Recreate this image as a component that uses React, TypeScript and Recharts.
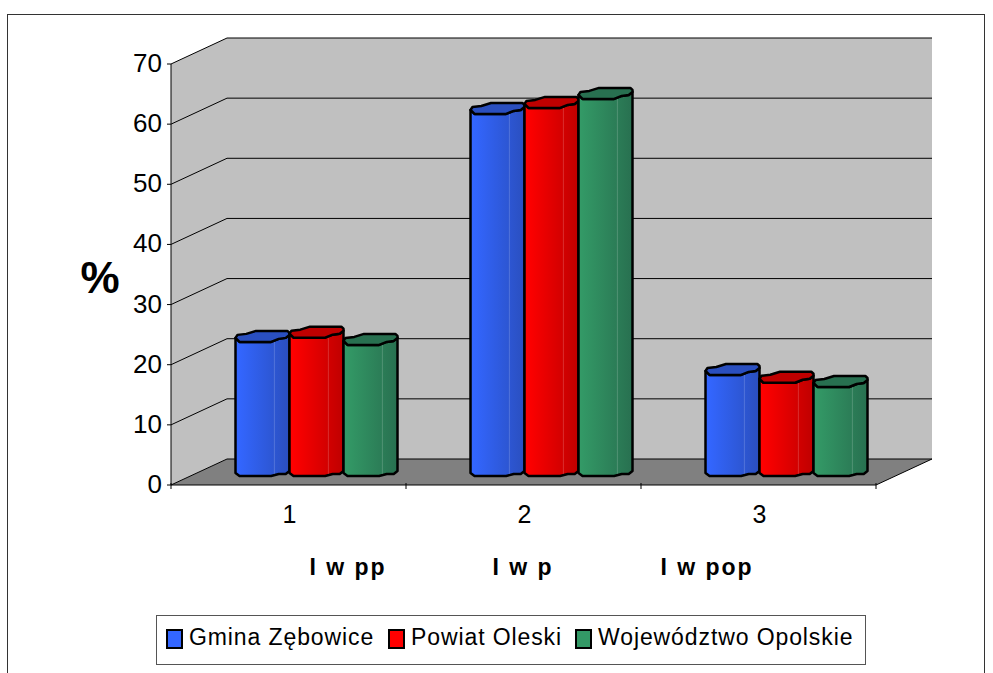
import React from "react";
import { BarChart, Bar, XAxis, YAxis, CartesianGrid, ReferenceArea, Legend } from "recharts";

const categories = ["1", "2", "3"];
const gminaValues = [22.3, 60.2, 16.8];
const powiatValues = [23.0, 61.2, 15.5];
const wojewodztwoValues = [21.8, 62.7, 14.8];
const seriesNames = ["Gmina Zębowice", "Powiat Oleski", "Województwo Opolskie"];
const seriesKeys = ["gmina", "powiat", "wojewodztwo"];
const seriesColors = ["#3366FF", "#FF0000", "#339966"];
const seriesDark = ["#2A4FBF", "#BF0000", "#287050"];
const yTicks = [0, 10, 20, 30, 40, 50, 60, 70];
const groupLabels = ["I w pp", "I w p", "I w pop"];

const data = categories.map((c, i) => ({
  name: c,
  gmina: gminaValues[i],
  powiat: powiatValues[i],
  wojewodztwo: wojewodztwoValues[i],
}));

const FONT = '"Liberation Sans", Arial, sans-serif';
const DX = 56;
const DY = -26;
const BAR_DX = 27.5;
const BAR_DY = -9;

const Walls = (p: any) => {
  const { x, y, width, height } = p;
  const b = y + height;
  const r = x + width;
  return (
    <g>
      <polygon points={`${x + DX},${y + DY} ${r + DX},${y + DY} ${r + DX},${b + DY} ${x + DX},${b + DY}`} fill="#C0C0C0" />
      <polygon points={`${x},${y} ${x + DX},${y + DY} ${x + DX},${b + DY} ${x},${b}`} fill="#C0C0C0" />
      <polygon points={`${x},${b} ${x + DX},${b + DY} ${r + DX},${b + DY} ${r},${b}`} fill="#808080" />
      <line x1={r} y1={b} x2={r + DX} y2={b + DY} stroke="#000" />
    </g>
  );
};

const GridLine = (p: any) => {
  const { x1, y1, x2 } = p;
  return (
    <polyline
      points={`${x1},${y1} ${x1 + DX},${y1 + DY} ${x2 + DX},${y1 + DY}`}
      fill="none"
      stroke="#000"
      strokeWidth={1}
    />
  );
};

const makeCylinder = (seriesIndex: number) => (p: any) => {
  const { x, y, width, height } = p;
  const L = x + BAR_DX;
  const w = width;
  const R = L + w;
  const top = y + BAR_DY;
  const base = y + height + BAR_DY;
  const body = [
    `M${L},${top - 4}`,
    `L${L + 4},${top}`,
    `L${L + w * 0.66},${top}`,
    `L${L + w * 0.8},${top - 3}`,
    `L${L + w * 0.93},${top - 4}`,
    `L${R},${top - 7}`,
    `L${R},${base - 5}`,
    `L${L + w * 0.93},${base - 2}`,
    `L${L + w * 0.8},${base - 2}`,
    `L${L + w * 0.66},${base}`,
    `L${L + 4},${base}`,
    `L${L},${base - 3}`,
    "Z",
  ].join(" ");
  const cap = [
    `M${L},${top - 4}`,
    `L${L + 2},${top - 7}`,
    `L${L + w * 0.2},${top - 8}`,
    `L${L + w * 0.38},${top - 11}`,
    `L${L + w * 0.96},${top - 11}`,
    `L${R},${top - 9}`,
    `L${R},${top - 7}`,
    `L${L + w * 0.93},${top - 4}`,
    `L${L + w * 0.8},${top - 3}`,
    `L${L + w * 0.66},${top}`,
    `L${L + 4},${top}`,
    "Z",
  ].join(" ");
  return (
    <g>
      <path d={body} fill={`url(#cyl${seriesIndex})`} stroke="#000" strokeWidth={2.5} strokeLinejoin="round" />
      <line x1={L + w * 0.72} y1={top} x2={L + w * 0.72} y2={base - 2} stroke="#fff" strokeOpacity={0.18} strokeWidth={1} />
      <path d={cap} fill={seriesDark[seriesIndex]} stroke="#000" strokeWidth={2.5} strokeLinejoin="round" />
    </g>
  );
};

const XTick = (p: any) => {
  const { x, y, payload, index } = p;
  const band = 235;
  return (
    <g>
      <line x1={x - band / 2} y1={y - 8} x2={x - band / 2} y2={y - 2} stroke="#000" />
      {index === categories.length - 1 && (
        <line x1={x + band / 2} y1={y - 8} x2={x + band / 2} y2={y - 2} stroke="#000" />
      )}
      <text x={x + 1} y={y + 32} textAnchor="middle" fontSize={25} fontFamily={FONT} fill="#000">
        {payload.value}
      </text>
    </g>
  );
};

const YTick = (p: any) => {
  const { x, y, payload } = p;
  return (
    <text x={x + 1} y={y + 8} textAnchor="end" fontSize={26} fontFamily={FONT} fill="#000">
      {payload.value}
    </text>
  );
};

const LegendBox = () => {
  const itemLefts = [9, 231, 418];
  return (
    <div
      style={{
        position: "relative",
        width: 710,
        height: 50,
        boxSizing: "border-box",
        border: "1px solid #555",
        background: "#fff",
        fontFamily: FONT,
        fontSize: 23,
        color: "#000",
      }}
    >
      {seriesNames.map((n, i) => (
        <div key={n} style={{ position: "absolute", left: itemLefts[i], top: 0, height: 47, whiteSpace: "nowrap" }}>
          <span
            style={{
              position: "absolute",
              left: 0,
              top: 13,
              width: 13,
              height: 16,
              background: seriesColors[i],
              border: "2px solid #000",
            }}
          />
          <span style={{ position: "absolute", left: 23, top: 7, lineHeight: "28px", letterSpacing: 0.9 }}>{n}</span>
        </div>
      ))}
    </div>
  );
};

const labelLefts = [348, 523, 707];

export default function App() {
  return (
    <div style={{ position: "absolute", left: 0, top: 0, width: 993, height: 673, overflow: "hidden", background: "#fff" }}>
      <div
        style={{
          position: "absolute",
          left: 7,
          top: 14,
          width: 978,
          height: 700,
          border: "1px solid #333",
          boxSizing: "border-box",
        }}
      />
      <BarChart
        width={993}
        height={673}
        data={data}
        margin={{ top: 64, right: 117, bottom: 98, left: 101 }}
        barSize={54}
        barGap={0}
        style={{ position: "absolute", left: 0, top: 0 }}
      >
        <defs>
          {seriesColors.map((c, i) => (
            <linearGradient key={c} id={`cyl${i}`} x1="0" y1="0" x2="1" y2="0">
              <stop offset="0.05" stopColor={c} />
              <stop offset="1" stopColor={seriesDark[i]} />
            </linearGradient>
          ))}
        </defs>
        <ReferenceArea y1={0} y2={70} shape={Walls} ifOverflow="visible" stroke="none" fill="none" zIndex={-200} />
        <CartesianGrid vertical={false} horizontal={GridLine} zIndex={-100} />
        <XAxis
          dataKey="name"
          height={40}
          interval={0}
          axisLine={{ stroke: "#000" }}
          tickLine={false}
          tick={XTick}
          tickMargin={0}
        />
        <YAxis
          width={70}
          domain={[0, 70]}
          ticks={yTicks}
          interval={0}
          axisLine={{ stroke: "#000" }}
          tickLine={{ stroke: "#000" }}
          tickSize={4}
          tickMargin={6}
          tick={YTick}
        />
        {seriesKeys.map((k, i) => (
          <Bar key={k} dataKey={k} name={seriesNames[i]} fill={seriesColors[i]} shape={makeCylinder(i)} isAnimationActive={false} />
        ))}
        <Legend
          verticalAlign="bottom"
          content={<LegendBox />}
          wrapperStyle={{ position: "absolute", left: 156, top: 615, width: 710, height: 50, bottom: "auto" }}
        />
      </BarChart>
      <div style={{ position: "absolute", left: 60, top: 252, width: 80, textAlign: "center", fontFamily: FONT, fontSize: 44, fontWeight: 700, lineHeight: "52px" }}>%</div>
      {groupLabels.map((t, i) => (
        <div
          key={t}
          style={{
            position: "absolute",
            left: labelLefts[i] - 80,
            top: 553,
            width: 160,
            textAlign: "center",
            fontFamily: FONT,
            fontSize: 23,
            fontWeight: 700,
            lineHeight: "28px",
            letterSpacing: 2,
            whiteSpace: "pre",
          }}
        >
          {t}
        </div>
      ))}
    </div>
  );
}
